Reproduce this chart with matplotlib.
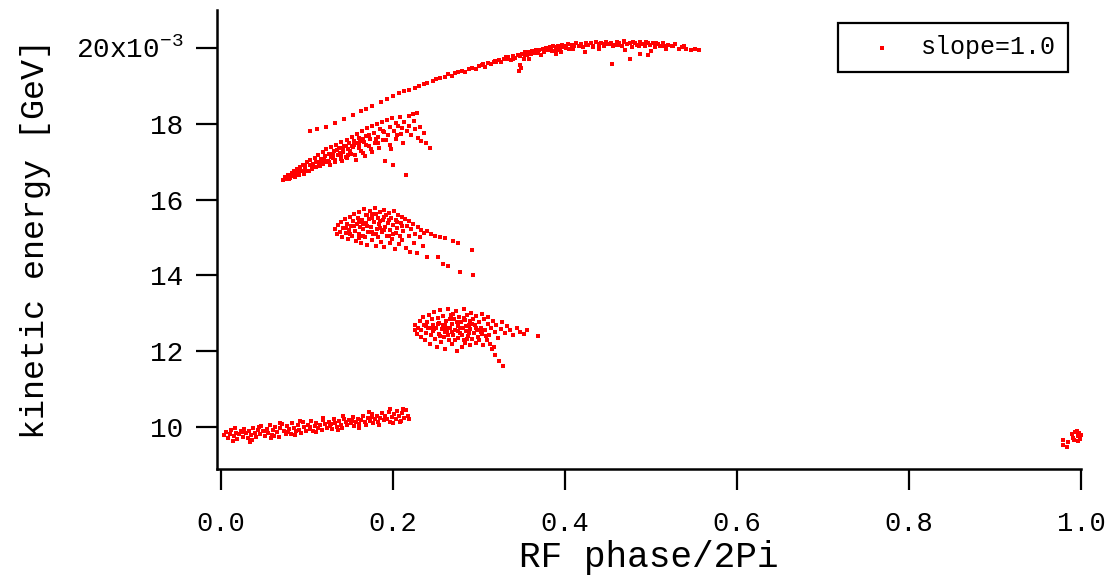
import matplotlib
matplotlib.use("Agg")
import matplotlib.pyplot as plt

# RF phase / 2Pi and kinetic energy (units of 1e-3 GeV) for each bunch cluster
band_x = [0.003, 0.006, 0.008, 0.010, 0.012, 0.015, 0.017, 0.019, 0.021, 0.023, 0.025, 0.027, 0.029, 0.031,
          0.033, 0.035, 0.037, 0.039, 0.041, 0.043, 0.045, 0.047, 0.049, 0.051, 0.053, 0.055, 0.057, 0.059,
          0.061, 0.063, 0.065, 0.067, 0.069, 0.071, 0.073, 0.075, 0.077, 0.079, 0.081, 0.083, 0.085, 0.087,
          0.089, 0.091, 0.093, 0.095, 0.097, 0.099, 0.101, 0.103, 0.105, 0.107, 0.109, 0.111, 0.113, 0.115,
          0.117, 0.119, 0.121, 0.123, 0.125, 0.127, 0.129, 0.131, 0.133, 0.135, 0.137, 0.139, 0.141, 0.143,
          0.145, 0.147, 0.149, 0.151, 0.153, 0.155, 0.157, 0.159, 0.161, 0.163, 0.165, 0.167, 0.169, 0.171,
          0.173, 0.175, 0.177, 0.179, 0.181, 0.183, 0.185, 0.187, 0.189, 0.191, 0.193, 0.195, 0.197, 0.199,
          0.201, 0.203, 0.205, 0.207, 0.209, 0.211, 0.213, 0.215, 0.217, 0.219,
          0.014, 0.036, 0.058, 0.044, 0.068, 0.092, 0.118, 0.142, 0.016, 0.034, 0.062, 0.086, 0.110, 0.136,
          0.160, 0.184, 0.208, 0.172, 0.196, 0.212, 0.026, 0.052, 0.078, 0.104, 0.128, 0.152, 0.176, 0.200]
band_y = [9.78, 9.86, 9.72, 9.82, 9.92, 9.76, 9.85, 9.68, 9.80, 9.90, 9.74, 9.95, 9.83, 9.70,
          9.88, 9.78, 9.98, 9.84, 9.73, 9.92, 9.81, 10.02, 9.88, 9.76, 9.95, 9.85, 10.05, 9.79,
          9.92, 10.00, 9.86, 9.74, 9.96, 10.08, 9.90, 9.82, 10.02, 9.94, 9.80, 10.10, 9.97, 9.88,
          10.04, 9.92, 9.84, 10.12, 10.00, 9.90, 10.06, 9.95, 10.16, 9.88, 10.02, 10.10, 9.96, 10.05,
          9.92, 10.18, 10.08, 9.98, 10.14, 10.03, 9.94, 10.20, 10.10, 10.00, 10.16, 10.06, 9.98, 10.22,
          10.12, 10.04, 10.18, 10.09, 10.26, 10.02, 10.14, 10.22, 10.08, 10.18, 10.30, 10.12, 10.06, 10.24,
          10.16, 10.34, 10.10, 10.20, 10.28, 10.14, 10.24, 10.38, 10.18, 10.30, 10.22, 10.40, 10.12, 10.26,
          10.34, 10.20, 10.42, 10.28, 10.16, 10.36, 10.24, 10.44, 10.30, 10.20,
          9.64, 9.66, 9.70, 10.00, 10.10, 10.15, 10.24, 10.30, 9.98, 9.60, 9.76, 9.78, 9.86, 9.92,
          9.98, 10.04, 10.12, 10.40, 10.46, 10.48, 9.86, 9.90, 9.86, 10.00, 10.08, 10.16, 10.26, 10.10]

low_x = [0.225, 0.226, 0.228, 0.229, 0.231, 0.232, 0.233, 0.235, 0.236, 0.237, 0.238, 0.240, 0.241, 0.242,
         0.243, 0.244, 0.245, 0.246, 0.247, 0.248, 0.249, 0.250, 0.251, 0.252, 0.253, 0.254, 0.255, 0.256,
         0.257, 0.258, 0.259, 0.260, 0.261, 0.262, 0.263, 0.264, 0.265, 0.266, 0.267, 0.268, 0.269, 0.270,
         0.271, 0.272, 0.273, 0.274, 0.275, 0.276, 0.277, 0.278, 0.279, 0.280, 0.281, 0.282, 0.283, 0.284,
         0.285, 0.286, 0.287, 0.288, 0.289, 0.290, 0.291, 0.292, 0.293, 0.294, 0.295, 0.296, 0.297, 0.298,
         0.299, 0.300, 0.302, 0.303, 0.304, 0.305, 0.306, 0.307, 0.309, 0.310, 0.311, 0.312, 0.314, 0.315,
         0.316, 0.318, 0.319, 0.320, 0.322, 0.323, 0.325, 0.327, 0.328, 0.330, 0.333, 0.336, 0.340, 0.344,
         0.348, 0.352, 0.356, 0.368,
         0.248, 0.255, 0.262, 0.268, 0.274, 0.280, 0.285, 0.290, 0.258, 0.266, 0.272, 0.278, 0.284, 0.270,
         0.260, 0.252, 0.276, 0.282, 0.264, 0.288, 0.296, 0.300, 0.244, 0.238, 0.292, 0.286, 0.302, 0.308,
         0.313, 0.317]
low_y = [12.55, 12.70, 12.45, 12.62, 12.80, 12.38, 12.55, 12.90, 12.68, 12.30, 12.48, 12.78, 12.60, 12.95,
         12.20, 12.42, 12.85, 12.70, 12.52, 13.02, 12.32, 12.62, 12.12, 12.88, 12.45, 12.75, 13.08, 12.25,
         12.58, 12.92, 12.38, 12.68, 12.05, 12.80, 12.50, 13.10, 12.30, 12.62, 12.95, 12.18, 12.72, 12.42,
         12.86, 12.55, 13.05, 12.00, 12.65, 12.35, 12.90, 12.48, 12.78, 12.10, 12.60, 13.12, 12.28, 12.82,
         12.52, 12.96, 12.40, 12.70, 12.15, 12.58, 13.00, 12.32, 12.85, 12.48, 12.68, 12.22, 12.92, 12.55,
         12.38, 12.78, 12.62, 12.98, 12.45, 12.15, 12.85, 12.55, 12.30, 12.72, 12.90, 12.42, 12.62, 12.05,
         12.80, 12.50, 11.90, 12.68, 12.35, 11.75, 12.58, 12.78, 11.62, 12.48, 12.65, 12.55, 12.42, 12.60,
         12.50, 12.45, 12.55, 12.40,
         12.58, 12.40, 12.62, 12.50, 12.78, 12.42, 12.65, 12.80, 12.70, 12.85, 12.30, 12.62, 12.22, 12.98,
         12.50, 12.72, 12.52, 12.88, 12.42, 12.48, 12.62, 12.28, 12.60, 12.66, 12.72, 12.32, 12.50, 12.40,
         12.20, 12.10]

mid_x = [0.133, 0.135, 0.136, 0.138, 0.139, 0.141, 0.142, 0.144, 0.145, 0.146, 0.148, 0.149, 0.150, 0.151,
         0.152, 0.153, 0.155, 0.156, 0.157, 0.158, 0.159, 0.160, 0.161, 0.162, 0.163, 0.164, 0.165, 0.166,
         0.167, 0.168, 0.169, 0.170, 0.171, 0.172, 0.173, 0.174, 0.175, 0.176, 0.177, 0.178, 0.179, 0.180,
         0.181, 0.182, 0.183, 0.184, 0.185, 0.186, 0.187, 0.188, 0.189, 0.190, 0.191, 0.192, 0.193, 0.194,
         0.195, 0.196, 0.197, 0.198, 0.199, 0.200, 0.201, 0.202, 0.203, 0.204, 0.205, 0.206, 0.207, 0.208,
         0.209, 0.210, 0.211, 0.212, 0.214, 0.215, 0.216, 0.218, 0.219, 0.220, 0.221, 0.223, 0.224, 0.226,
         0.228, 0.229, 0.231, 0.233, 0.235, 0.236, 0.240, 0.240, 0.244, 0.249, 0.252, 0.255, 0.258, 0.260,
         0.264, 0.270, 0.276, 0.278, 0.292, 0.293,
         0.160, 0.165, 0.170, 0.175, 0.180, 0.185, 0.190, 0.195, 0.170, 0.180, 0.150, 0.155, 0.185, 0.175,
         0.195, 0.200, 0.165, 0.190, 0.205, 0.160, 0.210, 0.145]
mid_y = [15.22, 15.08, 15.32, 15.15, 15.40, 15.02, 15.25, 15.48, 15.12, 15.35, 14.95, 15.20, 15.55, 15.30,
         15.05, 15.42, 15.62, 15.18, 14.90, 15.35, 15.50, 15.10, 15.68, 15.28, 14.85, 15.45, 15.22, 15.75,
         15.00, 15.38, 15.58, 14.80, 15.15, 15.48, 15.70, 15.28, 14.92, 15.62, 15.08, 15.40, 15.78, 14.78,
         15.22, 15.52, 15.00, 15.35, 15.68, 14.88, 15.15, 15.45, 15.72, 14.75, 15.28, 15.58, 15.05, 15.38,
         15.65, 14.85, 15.20, 15.50, 14.95, 15.32, 15.70, 14.70, 15.12, 15.45, 15.25, 15.60, 14.82, 15.05,
         15.38, 15.55, 14.92, 15.18, 15.48, 14.72, 15.30, 15.42, 15.05, 14.62, 15.22, 15.35, 14.85, 15.10,
         14.58, 15.28, 15.00, 15.20, 14.78, 15.12, 15.18, 14.47, 15.08, 15.05, 14.47, 15.00, 14.30, 14.98,
         14.24, 14.90, 14.84, 14.10, 14.66, 14.02,
         15.40, 15.05, 15.30, 15.50, 15.10, 15.42, 15.20, 15.05, 15.60, 15.62, 15.10, 15.30, 15.25, 15.15,
         15.45, 15.10, 15.35, 15.55, 15.40, 14.98, 15.30, 15.25]

upper_x = [0.072, 0.074, 0.076, 0.078, 0.080, 0.082, 0.083, 0.085, 0.087, 0.088, 0.090, 0.092, 0.093, 0.095,
           0.096, 0.098, 0.100, 0.101, 0.103, 0.104, 0.106, 0.107, 0.109, 0.110, 0.112, 0.113, 0.115, 0.116,
           0.118, 0.119, 0.121, 0.122, 0.124, 0.125, 0.127, 0.128, 0.130, 0.131, 0.133, 0.134, 0.136, 0.137,
           0.139, 0.140, 0.142, 0.143, 0.145, 0.146, 0.148, 0.149, 0.151, 0.152, 0.154, 0.155, 0.157, 0.158,
           0.160, 0.161, 0.163, 0.164, 0.166, 0.167, 0.169, 0.170, 0.172, 0.173, 0.175, 0.176, 0.178, 0.179,
           0.181, 0.182, 0.184, 0.185, 0.187, 0.188, 0.190, 0.191, 0.193, 0.194, 0.196, 0.197, 0.199, 0.200,
           0.201, 0.203, 0.204, 0.206, 0.208, 0.209, 0.211, 0.213, 0.215, 0.216, 0.218, 0.219, 0.221, 0.223,
           0.224, 0.226, 0.228, 0.229, 0.231, 0.233, 0.236, 0.238, 0.243,
           0.120, 0.125, 0.130, 0.135, 0.140, 0.145, 0.150, 0.155, 0.160, 0.165, 0.128, 0.138, 0.148, 0.158,
           0.168, 0.110, 0.105, 0.098, 0.115, 0.142, 0.152, 0.162, 0.172, 0.180, 0.188,
           0.079, 0.086, 0.091, 0.097, 0.102, 0.108, 0.114, 0.123, 0.132, 0.141, 0.147, 0.156, 0.165, 0.174,
           0.183, 0.192, 0.198, 0.205, 0.212]
upper_y = [16.52, 16.60, 16.55, 16.65, 16.58, 16.70, 16.62, 16.75, 16.66, 16.80, 16.70, 16.85, 16.74, 16.92,
           16.68, 16.82, 16.98, 16.76, 16.90, 17.05, 16.80, 16.95, 17.10, 16.85, 17.00, 17.18, 16.88, 17.08,
           17.25, 16.95, 17.15, 17.32, 17.02, 17.20, 16.92, 17.38, 17.10, 17.28, 17.00, 17.45, 17.18, 17.35,
           17.08, 17.52, 17.25, 17.42, 17.12, 17.58, 17.32, 17.48, 17.20, 17.65, 17.38, 17.55, 17.05, 17.72,
           17.45, 17.62, 17.28, 17.80, 17.52, 17.15, 17.68, 17.88, 17.40, 17.60, 17.95, 17.25, 17.75, 17.50,
           18.00, 17.65, 17.35, 17.85, 18.05, 17.58, 17.78, 17.02, 18.10, 17.70, 17.45, 17.92, 18.15, 16.92,
           17.82, 17.60, 18.02, 17.95, 18.18, 17.72, 17.88, 18.05, 16.65, 17.80, 18.20, 17.95, 17.70, 18.25,
           18.08, 17.85, 18.28, 17.62, 17.92, 17.55, 17.75, 17.48, 17.35,
           17.05, 16.98, 17.20, 17.30, 17.15, 17.40, 17.28, 17.45, 17.35, 17.60, 17.12, 17.22, 17.18, 17.50,
           17.45, 17.00, 16.92, 16.88, 16.98, 17.35, 17.42, 17.55, 17.70, 17.60, 17.82,
           16.54, 16.60, 16.64, 16.72, 16.74, 16.86, 16.94, 16.98, 17.05, 17.02, 17.10, 17.18, 17.22, 17.32,
           17.48, 17.58, 17.34, 17.70, 17.50]

arc_x = [0.103, 0.112, 0.122, 0.133, 0.143, 0.153, 0.163, 0.168, 0.176, 0.186, 0.193, 0.200, 0.207, 0.213,
         0.218, 0.225, 0.230, 0.236, 0.240, 0.246, 0.250, 0.255, 0.260, 0.264, 0.268, 0.272, 0.276, 0.280,
         0.284, 0.288, 0.292, 0.296, 0.300, 0.304, 0.307, 0.310, 0.314, 0.317, 0.320, 0.323, 0.326, 0.329,
         0.332, 0.334, 0.337, 0.340, 0.342, 0.345, 0.347, 0.348, 0.350, 0.352, 0.354, 0.356, 0.358, 0.360,
         0.362, 0.364, 0.366, 0.368, 0.370, 0.372, 0.374, 0.376, 0.378, 0.380, 0.382, 0.384, 0.386, 0.388,
         0.390, 0.392, 0.394, 0.396, 0.398, 0.400, 0.403, 0.405, 0.408, 0.410, 0.413, 0.416, 0.418, 0.421,
         0.424, 0.427, 0.430, 0.433, 0.436, 0.439, 0.442, 0.445, 0.448, 0.451, 0.454, 0.457, 0.460, 0.463,
         0.466, 0.469, 0.472, 0.475, 0.478, 0.481, 0.484, 0.487, 0.490, 0.493, 0.496, 0.499, 0.502, 0.505,
         0.508, 0.511, 0.514, 0.517, 0.520, 0.524, 0.528, 0.532, 0.536, 0.541, 0.546, 0.551, 0.556,
         0.348, 0.349, 0.395, 0.455, 0.476, 0.470, 0.423, 0.440, 0.500, 0.390, 0.358, 0.487, 0.497,
         0.305, 0.318, 0.331, 0.339, 0.353, 0.361, 0.369, 0.377, 0.385, 0.393, 0.401, 0.409, 0.417, 0.425,
         0.432, 0.440, 0.447, 0.456, 0.462, 0.468, 0.479, 0.486, 0.494, 0.506, 0.515, 0.526, 0.538]
arc_y = [17.80, 17.86, 17.92, 18.02, 18.12, 18.22, 18.34, 18.40, 18.48, 18.58, 18.66, 18.74, 18.80, 18.86,
         18.88, 18.95, 19.00, 19.05, 19.08, 19.12, 19.18, 19.20, 19.24, 19.30, 19.26, 19.34, 19.37, 19.40,
         19.36, 19.45, 19.48, 19.44, 19.52, 19.56, 19.50, 19.60, 19.58, 19.64, 19.62, 19.68, 19.64, 19.72,
         19.70, 19.76, 19.68, 19.78, 19.74, 19.82, 19.40, 19.78, 19.85, 19.72, 19.88, 19.80, 19.90, 19.84,
         19.92, 19.86, 19.95, 19.88, 19.94, 19.82, 19.98, 19.90, 20.00, 19.94, 20.02, 19.96, 20.04, 19.92,
         20.02, 20.06, 19.98, 20.08, 20.02, 20.05, 20.10, 19.98, 20.08, 20.04, 20.12, 20.06, 20.10, 20.02,
         20.14, 20.08, 20.12, 20.05, 20.15, 20.10, 20.14, 20.06, 20.16, 20.10, 20.14, 20.08, 20.16, 20.12,
         20.05, 20.15, 20.10, 20.14, 20.02, 20.12, 20.08, 20.15, 20.10, 20.04, 20.13, 20.08, 20.12, 20.02,
         20.10, 20.06, 20.12, 19.98, 20.08, 20.04, 20.10, 19.96, 20.02, 19.98, 19.95, 19.97, 19.94,
         19.55, 19.48, 19.88, 19.58, 19.72, 19.95, 19.90, 19.96, 19.92, 19.85, 19.70, 19.85, 19.80,
         19.58, 19.66, 19.76, 19.72, 19.80, 19.90, 19.86, 19.96, 19.92, 19.94, 20.00, 19.98, 20.04, 20.08,
         20.02, 20.08, 20.10, 20.04, 20.08, 20.18, 20.16, 20.06, 20.16, 20.14, 20.04, 20.06, 20.06]

edge_x = [0.979, 0.979, 0.984, 0.985, 0.990, 0.991, 0.993, 0.995, 0.996, 0.998, 0.999, 0.997, 0.992, 1.000]
edge_y = [9.65, 9.52, 9.48, 9.60, 9.80, 9.72, 9.86, 9.90, 9.76, 9.84, 9.68, 9.62, 9.66, 9.78]

y_ticks = [10, 12, 14, 16, 18, 20]
y_tick_labels = ["10", "12", "14", "16", "18", "20x10$^{-3}$"]
x_ticks = [0.0, 0.2, 0.4, 0.6, 0.8, 1.0]
x_tick_labels = ["0.0", "0.2", "0.4", "0.6", "0.8", "1.0"]
legend_label = "slope=1.0"

plt.rcParams['font.family'] = ['Liberation Mono', 'DejaVu Sans Mono']
plt.rcParams['mathtext.fontset'] = 'custom'
plt.rcParams['mathtext.rm'] = 'Liberation Mono'
plt.rcParams['mathtext.it'] = 'Liberation Mono'

fig = plt.figure(figsize=(11.06, 5.82), dpi=100)
ax = fig.add_axes([0.1962, 0.1942, 0.7812, 0.7886])

all_x = band_x + low_x + mid_x + upper_x + arc_x + edge_x
all_y = band_y + low_y + mid_y + upper_y + arc_y + edge_y
ax.scatter(all_x, [v * 1e-3 for v in all_y], s=12, marker='s', color='#ff0000',
           linewidths=0, label=legend_label, clip_on=False)

ax.set_xlim(-0.0047, 1.0)
ax.set_ylim(8.89e-3, 21.0e-3)

ax.set_yticks([v * 1e-3 for v in y_ticks])
ax.set_yticklabels(y_tick_labels, fontsize=20)
ax.set_xticks(x_ticks)
ax.set_xticklabels(x_tick_labels, fontsize=19.5)

for s in ['top', 'right']:
    ax.spines[s].set_visible(False)
for s in ['left', 'bottom']:
    ax.spines[s].set_linewidth(1.8)
ax.tick_params(axis='both', direction='out', length=15, width=1.6, colors='black')
ax.tick_params(axis='y', pad=9)
ax.tick_params(axis='x', pad=15)

ax.set_xlabel("RF phase/2Pi", fontsize=26)
ax.set_ylabel("kinetic energy [GeV]", fontsize=24)
ax.xaxis.set_label_coords(0.5, -0.155)
ax.yaxis.set_label_coords(-0.192, 0.5)

leg = ax.legend(loc='upper right', bbox_to_anchor=(0.985, 0.972), borderaxespad=0,
                fontsize=18, scatterpoints=1, markerscale=0.7, handlelength=2.5, handletextpad=0.3,
                borderpad=0.5, fancybox=False, framealpha=1, edgecolor='black')
leg.get_frame().set_linewidth(1.6)

fig.savefig("out.png", dpi=100)
